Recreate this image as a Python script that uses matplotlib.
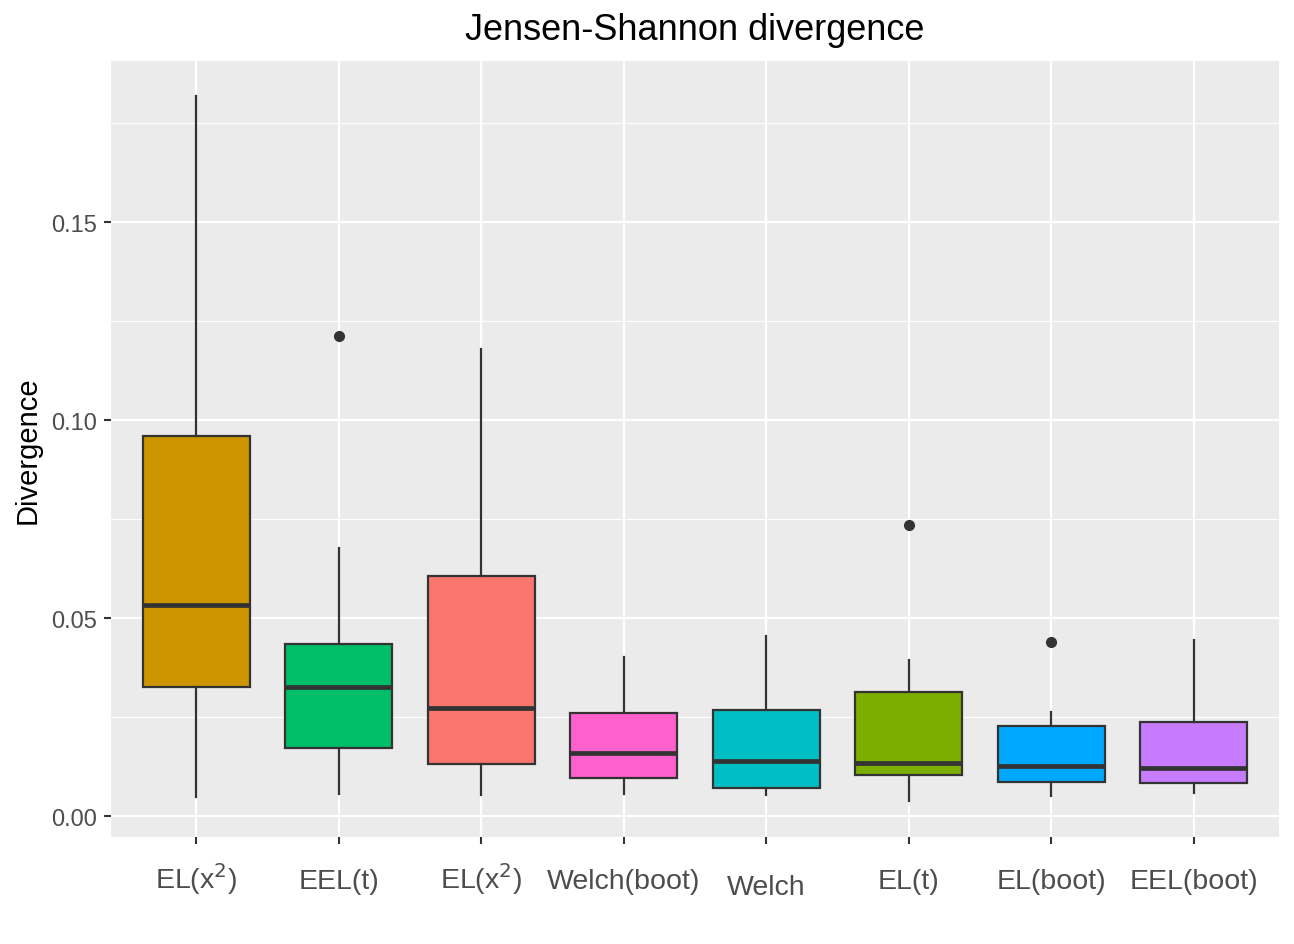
import numpy as np
from matplotlib import pyplot as plt

# box statistics
labels = ['EL(x$^2$)', 'EEL(t)', 'EL(x$^2$)', 'Welch(boot)', 'Welch', 'EL(t)', 'EL(boot)', 'EEL(boot)']
whislo = [0.0048, 0.0056, 0.0053, 0.0056, 0.0053, 0.0038, 0.0051, 0.0058]
q1 = [0.0326, 0.0172, 0.0131, 0.0096, 0.0071, 0.0104, 0.0086, 0.0084]
med = [0.0533, 0.0326, 0.0273, 0.0159, 0.0139, 0.0134, 0.0126, 0.0122]
q3 = [0.0960, 0.0434, 0.0606, 0.0260, 0.0268, 0.0313, 0.0227, 0.0237]
whishi = [0.1818, 0.0677, 0.1179, 0.0402, 0.0455, 0.0394, 0.0262, 0.0444]
fliers = [[], [0.1212], [], [], [], [0.0735], [0.0439], []]
colors = ['#CD9600', '#00BE67', '#F8766D', '#FF61CC', '#00BFC4', '#7CAE00', '#00A9FF', '#C77CFF']

stats = []
for i in range(len(labels)):
	stats.append(dict(whislo=whislo[i], q1=q1[i], med=med[i], q3=q3[i],
					  whishi=whishi[i], fliers=fliers[i]))

fig = plt.figure(figsize=(12.94, 9.45), dpi=100)
ax = fig.add_axes([111/1294, 107/945, 1168/1294, 776/945])
ax.set_facecolor('#EBEBEB')
for s in ax.spines.values():
	s.set_visible(False)

pos = np.arange(1, len(labels)+1)
bp = ax.bxp(stats, positions=pos, widths=0.75, patch_artist=True, showcaps=False,
			boxprops=dict(edgecolor='#333333', linewidth=1.6),
			whiskerprops=dict(color='#333333', linewidth=1.6),
			medianprops=dict(color='#333333', linewidth=3.4, solid_capstyle='butt'),
			flierprops=dict(marker='o', markerfacecolor='#333333', markeredgecolor='#333333', markersize=7))
for patch, c in zip(bp['boxes'], colors):
	patch.set_facecolor(c)

ax.set_xlim(0.4, len(labels)+0.6)
ax.set_ylim(-0.0053, 0.1907)
ax.set_yticks([0.00, 0.05, 0.10, 0.15])
ax.set_yticklabels(['0.00', '0.05', '0.10', '0.15'])
ax.set_yticks([0.025, 0.075, 0.125, 0.175], minor=True)
ax.set_xticks(pos)
ax.set_xticklabels([])
ax.grid(True, which='major', color='white', linewidth=1.6)
ax.grid(True, which='minor', axis='y', color='white', linewidth=0.8)
ax.set_axisbelow(True)
ax.tick_params(axis='both', which='major', length=5, width=1.5, color='#333333',
			   labelsize=17, labelcolor='#4D4D4D', pad=5)
ax.tick_params(axis='y', which='minor', length=0)

# x labels by hand, Welch sits a bit lower in the original
for i, lab in enumerate(labels):
	yy = -0.0735 if lab == 'Welch' else -0.066
	ax.text(pos[i], yy, lab, transform=ax.get_xaxis_transform(), ha='center', va='baseline',
			fontsize=20.5, color='#4D4D4D', family='Liberation Sans')

for t in ax.get_yticklabels():
	t.set_family('Liberation Sans')
ax.set_ylabel('Divergence', fontsize=21, family='Liberation Sans', labelpad=7)
ax.set_title('Jensen-Shannon divergence', fontsize=26, family='Liberation Sans', pad=16)

fig.savefig('out.png', dpi=100)
